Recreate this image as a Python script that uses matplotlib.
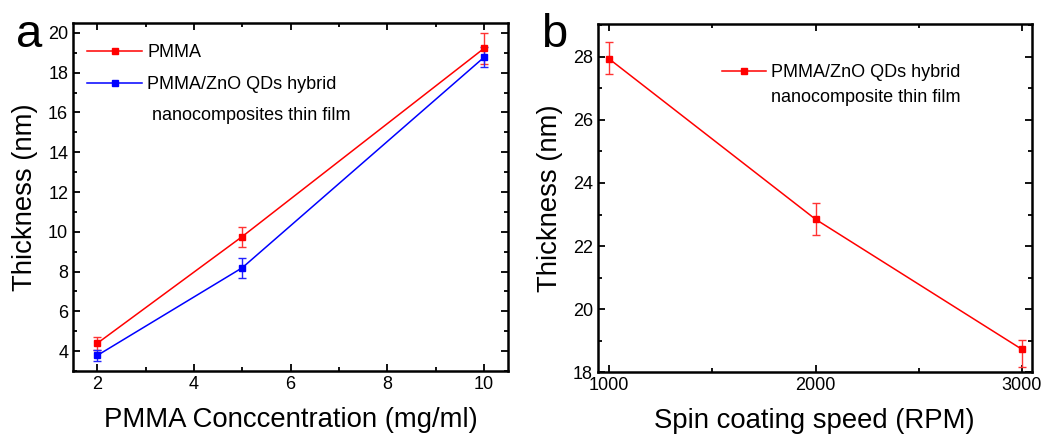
import matplotlib
matplotlib.use("Agg")
import matplotlib.pyplot as plt
from matplotlib.lines import Line2D
from matplotlib.ticker import MultipleLocator

plt.rcParams['font.family'] = ['Liberation Sans', 'DejaVu Sans']

# Panel a data
conc = [2, 5, 10]
pmma = [4.39, 9.76, 19.22]
pmma_err = [0.33, 0.5, 0.78]
hybrid = [3.78, 8.19, 18.77]
hybrid_err = [0.3, 0.5, 0.5]

# Panel b data
speed = [1000, 2000, 3000]
thick_b = [27.93, 22.85, 18.73]
thick_b_err_low = [0.48, 0.51, 0.57]
thick_b_err_high = [0.55, 0.51, 0.30]

RED = '#ff0000'
BLUE = '#0000ff'

fig = plt.figure(figsize=(10.45, 4.34), dpi=100)
axa = fig.add_axes([0.0699, 0.1452, 0.4163, 0.8018])
axb = fig.add_axes([0.572, 0.1422, 0.4153, 0.8025])

def style(ax):
    for s in ax.spines.values():
        s.set_linewidth(1.8)
    ax.tick_params(which='both', direction='in', top=True, right=True, labelsize=13, width=1.3)
    ax.tick_params(which='major', length=5)
    ax.tick_params(which='minor', length=3)

def handle(color):
    return Line2D([], [], color=color, lw=1.1, marker='s', ms=4)

# Panel a
axa.errorbar(conc, pmma, yerr=pmma_err, color=RED, lw=1.1, marker='s', ms=4,
             capsize=3, elinewidth=1, ecolor='#ff3333')
axa.errorbar(conc, hybrid, yerr=hybrid_err, color=BLUE, lw=1.1, marker='s', ms=4,
             capsize=3, elinewidth=1, ecolor='#2222ff')
axa.set_xlim(1.5, 10.5)
axa.set_ylim(3.0, 20.5)
axa.xaxis.set_major_locator(MultipleLocator(2))
axa.xaxis.set_minor_locator(MultipleLocator(1))
axa.yaxis.set_major_locator(MultipleLocator(2))
axa.yaxis.set_minor_locator(MultipleLocator(1))
style(axa)
axa.set_xlabel('PMMA Conccentration (mg/ml)', fontsize=19.8, labelpad=10)
axa.set_ylabel('Thickness (nm)', fontsize=19.8, labelpad=7)
ha = [handle(RED), handle(BLUE), Line2D([], [], alpha=0)]
la = ['PMMA', 'PMMA/ZnO QDs hybrid', ' nanocomposites thin film']
axa.legend(ha, la, loc='upper left', frameon=False, fontsize=13, handlelength=3.0,
           labelspacing=0.8, handletextpad=0.3, borderaxespad=0.4,
           bbox_to_anchor=(0.0, 0.98))
fig.text(16 / 1045, 1 - 47 / 434, 'a', fontsize=34, ha='left', va='baseline')

# Panel b
axb.errorbar(speed, thick_b, yerr=[thick_b_err_low, thick_b_err_high], color=RED,
             lw=1.1, marker='s', ms=4, capsize=3, elinewidth=1, ecolor='#ff3333')
axb.set_xlim(944, 3048)
axb.set_ylim(18, 29.04)
axb.xaxis.set_major_locator(MultipleLocator(1000))
axb.xaxis.set_minor_locator(MultipleLocator(500))
axb.yaxis.set_major_locator(MultipleLocator(2))
axb.yaxis.set_minor_locator(MultipleLocator(1))
style(axb)
axb.set_xlabel('Spin coating speed (RPM)', fontsize=19.8, labelpad=10)
axb.set_ylabel('Thickness (nm)', fontsize=19.8, labelpad=7)
hb = [handle(RED), Line2D([], [], alpha=0)]
lb = ['PMMA/ZnO QDs hybrid', 'nanocomposite thin film']
axb.legend(hb, lb, loc='upper left', frameon=False, fontsize=13, handlelength=2.4,
           labelspacing=0.42, handletextpad=0.3, borderpad=0, borderaxespad=0,
           bbox_to_anchor=(0.287, 0.885))
fig.text(541 / 1045, 1 - 47 / 434, 'b', fontsize=34, ha='left', va='baseline')

fig.savefig('out.png', dpi=100)
